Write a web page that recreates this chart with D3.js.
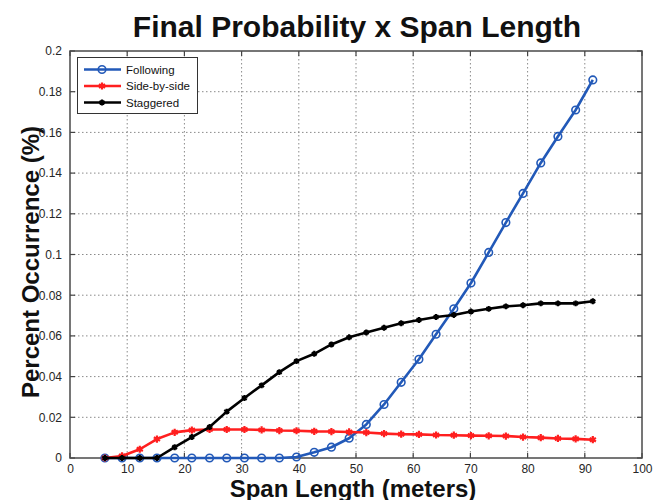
<!DOCTYPE html>
<html>
<head>
<meta charset="utf-8">
<script src="https://cdn.jsdelivr.net/npm/d3@7"></script>
<style>
  html, body { margin: 0; padding: 0; background: #fff; }
  svg { display: block; font-family: Arial, "Liberation Sans", Helvetica, sans-serif; }
</style>
</head>
<body>
<svg id="chart" width="653" height="500"></svg>
<script>
// Span lengths in meters (10 ft steps, 20 ft to 300 ft)
const spanLength = [6.1, 9.1, 12.2, 15.2, 18.3, 21.3, 24.4, 27.4, 30.5, 33.5, 36.6, 39.6, 42.7, 45.7, 48.8,
                    51.8, 54.9, 57.9, 61.0, 64.0, 67.1, 70.1, 73.2, 76.2, 79.2, 82.3, 85.3, 88.4, 91.4];

const following = [0, 0, 0, 0, 0, 0, 0, 0, 0, 0, 0, 0.0005, 0.0028, 0.0053, 0.0097,
                   0.0165, 0.0263, 0.0372, 0.0485, 0.0608, 0.0733, 0.086, 0.101, 0.1157, 0.13, 0.145, 0.158, 0.171, 0.1858];

const sideBySide = [0, 0.001, 0.0043, 0.0093, 0.0126, 0.0137, 0.014, 0.014, 0.014, 0.0138, 0.0135, 0.0134, 0.0131, 0.013, 0.0128,
                    0.0125, 0.012, 0.0117, 0.0116, 0.0113, 0.0112, 0.011, 0.0109, 0.0108, 0.0103, 0.01, 0.0096, 0.0094, 0.009];

const staggered = [0, 0, 0, 0, 0.0053, 0.0103, 0.0152, 0.0228, 0.0295, 0.0357, 0.0422, 0.0476, 0.0512, 0.0558, 0.0593,
                   0.0617, 0.064, 0.0662, 0.0678, 0.0693, 0.0703, 0.072, 0.0733, 0.0745, 0.0751, 0.076, 0.076, 0.076, 0.077];

const xTicks = [0, 10, 20, 30, 40, 50, 60, 70, 80, 90, 100];
const yTicks = [0, 0.02, 0.04, 0.06, 0.08, 0.1, 0.12, 0.14, 0.16, 0.18, 0.2];

const titleText = "Final Probability x Span Length";
const xLabel = "Span Length (meters)";
const yLabel = "Percent Occurrence (%)";

const series = [
  { name: "Following", values: following, color: "#2259b8", marker: "circle" },
  { name: "Side-by-side", values: sideBySide, color: "#ff1f1f", marker: "star" },
  { name: "Staggered", values: staggered, color: "#000000", marker: "star" }
];

const svg = d3.select("#chart");
const plotLeft = 70, plotRight = 642, plotTop = 51, plotBottom = 458;

const x = d3.scaleLinear().domain([0, 100]).range([plotLeft, plotRight]);
const y = d3.scaleLinear().domain([0, 0.2]).range([plotBottom, plotTop]);

// Dotted grid
const grid = svg.append("g");
grid.selectAll("line.gx").data(xTicks.slice(1, -1)).join("line")
  .attr("x1", d => x(d)).attr("x2", d => x(d)).attr("y1", plotTop).attr("y2", plotBottom)
  .attr("stroke", "#8a8a8a").attr("stroke-width", 1).attr("stroke-dasharray", "1.5,2.5");
grid.selectAll("line.gy").data(yTicks.slice(1, -1)).join("line")
  .attr("x1", plotLeft).attr("x2", plotRight).attr("y1", d => y(d)).attr("y2", d => y(d))
  .attr("stroke", "#8a8a8a").attr("stroke-width", 1).attr("stroke-dasharray", "1.5,2.5");

// Axes with tick labels
const fmtY = d => d === 0 ? "0" : d3.format("~g")(+d.toFixed(2));
const xAxis = svg.append("g").attr("transform", `translate(0,${plotBottom})`)
  .call(d3.axisBottom(x).tickValues(xTicks).tickSize(0).tickPadding(6).tickFormat(d3.format("d")));
const yAxis = svg.append("g").attr("transform", `translate(${plotLeft},0)`)
  .call(d3.axisLeft(y).tickValues(yTicks).tickSize(0).tickPadding(8).tickFormat(fmtY));
[xAxis, yAxis].forEach(a => {
  a.select(".domain").remove();
  a.selectAll("text").attr("font-size", 12).attr("fill", "#262626")
    .attr("font-family", "Arial, 'Liberation Sans', sans-serif");
});

// Inward ticks on all four sides
const tk = svg.append("g").attr("stroke", "#444").attr("stroke-width", 1.2);
xTicks.forEach(v => {
  tk.append("line").attr("x1", x(v)).attr("x2", x(v)).attr("y1", plotBottom).attr("y2", plotBottom - 5);
  tk.append("line").attr("x1", x(v)).attr("x2", x(v)).attr("y1", plotTop).attr("y2", plotTop + 5);
});
yTicks.forEach(v => {
  tk.append("line").attr("x1", plotLeft).attr("x2", plotLeft + 5).attr("y1", y(v)).attr("y2", y(v));
  tk.append("line").attr("x1", plotRight).attr("x2", plotRight - 5).attr("y1", y(v)).attr("y2", y(v));
});

// Frame
svg.append("rect").attr("x", plotLeft).attr("y", plotTop)
  .attr("width", plotRight - plotLeft).attr("height", plotBottom - plotTop)
  .attr("fill", "none").attr("stroke", "#4a4a4a").attr("stroke-width", 1.5);

// Series lines and markers
const line = d3.line().x((d, i) => x(spanLength[i])).y(d => y(d));
const starPath = d3.symbol().type(d3.symbolAsterisk).size(36)();
const starPathSmall = d3.symbol().type(d3.symbolAsterisk).size(24)();

function drawMarker(g, s, px, py, small) {
  if (s.marker === "circle") {
    g.append("circle").attr("cx", px).attr("cy", py).attr("r", 3.8)
      .attr("fill", "none").attr("stroke", s.color).attr("stroke-width", 1.6);
  } else {
    g.append("path").attr("d", small ? starPathSmall : starPath)
      .attr("transform", `translate(${px},${py})`)
      .attr("fill", "none").attr("stroke", s.color).attr("stroke-width", 2.2);
    g.append("circle").attr("cx", px).attr("cy", py).attr("r", small ? 1.8 : 2)
      .attr("fill", s.color);
  }
}

series.forEach(s => {
  const g = svg.append("g");
  g.append("path").datum(s.values).attr("d", line)
    .attr("fill", "none").attr("stroke", s.color).attr("stroke-width", 2.6)
    .attr("stroke-linejoin", "round");
  s.values.forEach((v, i) => drawMarker(g, s, x(spanLength[i]), y(v), s.name === "Staggered"));
});

// Legend
const lg = svg.append("g");
lg.append("rect").attr("x", 77.5).attr("y", 57.5).attr("width", 120).attr("height", 56)
  .attr("fill", "#fff").attr("stroke", "#333").attr("stroke-width", 1);
series.forEach((s, i) => {
  const ly = 69.5 + i * 16.5;
  lg.append("line").attr("x1", 84).attr("x2", 121).attr("y1", ly).attr("y2", ly)
    .attr("stroke", s.color).attr("stroke-width", 2.6);
  drawMarker(lg, s, 102, ly, s.name === "Staggered");
  lg.append("text").attr("x", 126).attr("y", ly + 4).text(s.name)
    .attr("font-size", 11.5).attr("fill", "#111");
});

// Titles
svg.append("text").attr("x", 357).attr("y", 37).attr("text-anchor", "middle")
  .attr("font-size", 30).attr("font-weight", "bold").attr("fill", "#111").text(titleText);
svg.append("text").attr("x", 353).attr("y", 497).attr("text-anchor", "middle")
  .attr("font-size", 24).attr("font-weight", "bold").attr("fill", "#111").text(xLabel);
svg.append("text").attr("transform", "translate(39,262) rotate(-90)").attr("text-anchor", "middle")
  .attr("font-size", 24).attr("font-weight", "bold").attr("fill", "#111").text(yLabel);
</script>
</body>
</html>
